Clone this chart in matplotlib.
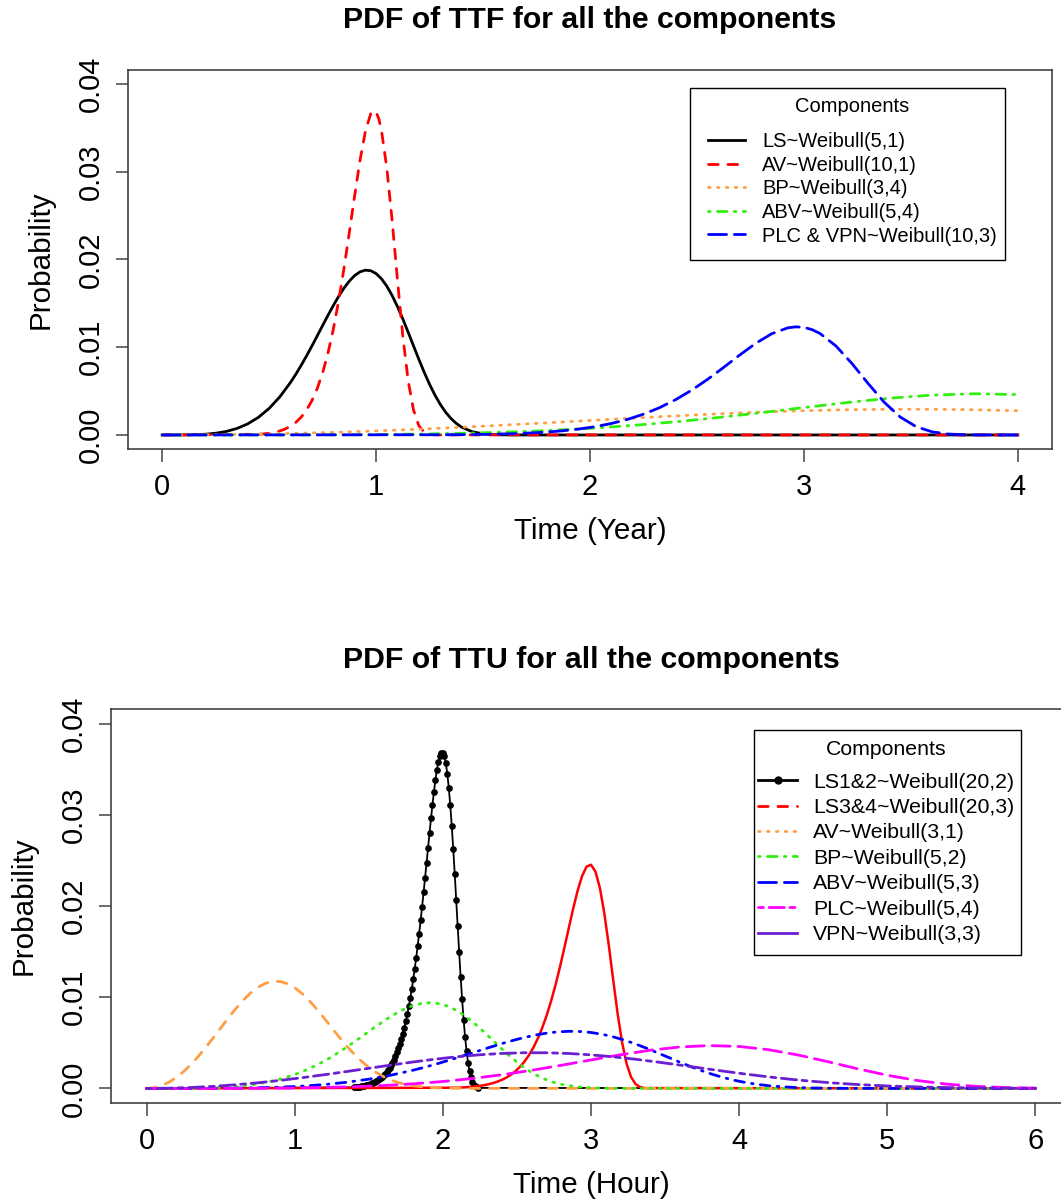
import numpy as np
import matplotlib
matplotlib.use('Agg')
import matplotlib.pyplot as plt
from matplotlib.lines import Line2D
from matplotlib.patches import Rectangle

plt.rcParams['font.family'] = ['Liberation Sans', 'DejaVu Sans']


def grid(start, step, n):
    # evenly spaced sample positions
    return list(np.round(start + step * np.arange(n), 4))


# ---------------- TTF (years) ----------------
ttf_ls_x = grid(0, 0.05, 12) + grid(0.6, 0.025, 33) + grid(1.45, 0.05, 6) + [4.0]
ttf_ls_y = [0, 3.1e-7, 5.0e-6, 2.53e-5, 8.00e-5, 0.000195, 0.000404, 0.000746, 0.001267,
            0.002013, 0.003029, 0.004351,
            0.005995, 0.006935, 0.007948, 0.009023, 0.010148, 0.011307, 0.012479, 0.013638,
            0.014758, 0.015806, 0.016747, 0.017549, 0.018176, 0.018597, 0.018784, 0.018721,
            0.018394, 0.017804, 0.016962, 0.015889, 0.014625, 0.013212, 0.011701, 0.010149,
            0.008609, 0.007137, 0.005771, 0.004547, 0.003487, 0.002595, 0.001875, 0.001312,
            0.000887,
            0.000364, 0.000128, 0.0000376, 0.0000091, 0.0000018, 0.0000003, 0]

ttf_av_x = [0, 0.45, 0.475, 0.5, 0.525, 0.55, 0.575, 0.6, 0.625, 0.65, 0.675, 0.7, 0.725,
            0.75, 0.775, 0.8, 0.825, 0.85, 0.875, 0.9, 0.925, 0.95, 0.975, 0.9875, 1.0,
            1.0125, 1.025, 1.05, 1.075, 1.1, 1.125, 1.15, 1.175, 1.2, 1.225, 1.25, 1.275, 4.0]
ttf_av_y = [0, 0.0000757, 0.000123, 0.000195, 0.000303, 0.000459, 0.000684, 0.001002,
            0.001442, 0.002044, 0.002852, 0.003923, 0.005317, 0.007097, 0.009328, 0.012055,
            0.015298, 0.019022, 0.023111, 0.027337, 0.031342, 0.034631, 0.036635, 0.036972,
            0.036788, 0.036042, 0.034720, 0.030428, 0.024410, 0.017630, 0.011226, 0.006156,
            0.002830, 0.001056, 0.000308, 0.0000673, 0.0000105, 0]

ttf_bp_x = grid(0, 0.2, 21)
ttf_bp_y = [0, 0.0000187, 0.0000749, 0.000168, 0.000298, 0.000461, 0.000657, 0.000880,
            0.001126, 0.001386, 0.001655, 0.001921, 0.002175, 0.002408, 0.002608, 0.002767,
            0.002877, 0.002932, 0.002931, 0.002872, 0.002759]

ttf_abv_x = grid(0, 0.2, 21)
ttf_abv_y = [0, 7.8e-8, 1.25e-6, 6.33e-6, 2.00e-5, 4.88e-5, 0.000101, 0.000187, 0.000317,
             0.000503, 0.000757, 0.001088, 0.001499, 0.001987, 0.002537, 0.003120, 0.003689,
             0.004187, 0.004544, 0.004696, 0.004599]

ttf_plc_x = [0, 1.35, 1.425, 1.5, 1.575, 1.65, 1.725, 1.8, 1.875, 1.95, 2.025, 2.1, 2.175,
             2.25, 2.325, 2.4, 2.475, 2.55, 2.625, 2.7, 2.775, 2.85, 2.925, 2.9625, 3.0,
             3.0375, 3.075, 3.15, 3.225, 3.3, 3.375, 3.45, 3.525, 3.6, 3.675, 3.75, 3.825, 4.0]
ttf_plc_y = [0, 0.0000252, 0.0000410, 0.0000650, 0.000101, 0.000153, 0.000228, 0.000334,
             0.000481, 0.000681, 0.000951, 0.001308, 0.001772, 0.002366, 0.003109, 0.004018,
             0.005099, 0.006341, 0.007704, 0.009112, 0.010447, 0.011544, 0.012212, 0.012324,
             0.012263, 0.012014, 0.011573, 0.010143, 0.008137, 0.005877, 0.003742, 0.002052,
             0.000943, 0.000352, 0.000103, 0.0000224, 0.0000035, 0]

ttf_labels = ['LS~Weibull(5,1)', 'AV~Weibull(10,1)', 'BP~Weibull(3,4)',
              'ABV~Weibull(5,4)', 'PLC & VPN~Weibull(10,3)']

# ---------------- TTU (hours) ----------------
ttu_ls12_x = [0.0] + grid(1.40, 0.01, 85) + [6.0]
ttu_ls12_y = [0,
              0.000114, 0.000130, 0.000149, 0.000170, 0.000194, 0.000222, 0.000253, 0.000287,
              0.000327, 0.000371, 0.000421, 0.000478, 0.000542, 0.000613, 0.000693, 0.000784,
              0.000885, 0.000998, 0.001125, 0.001266, 0.001425, 0.001601, 0.001798, 0.002017,
              0.002261, 0.002531, 0.002832, 0.003164, 0.003532, 0.003939, 0.004387, 0.004880,
              0.005423, 0.006018, 0.006669, 0.007381, 0.008156, 0.008999, 0.009913, 0.010899,
              0.011962, 0.013102, 0.014319, 0.015614, 0.016983, 0.018423, 0.019928, 0.021487,
              0.023092, 0.024724, 0.026367, 0.027999, 0.029594, 0.031120, 0.032546, 0.033833,
              0.034943, 0.035833, 0.036465, 0.036795, 0.036788, 0.036417, 0.035660, 0.034506,
              0.032968, 0.031052, 0.028809, 0.026284, 0.023560, 0.020695, 0.017800, 0.014951,
              0.012247, 0.009760, 0.007544, 0.005647, 0.004082, 0.002839, 0.001892, 0.001206,
              0.000732, 0.000421, 0.000229, 0.000117, 0.000056,
              0]

ttu_ls34_x = [0.0] + grid(2.10, 0.03, 43) + [6.0]
ttu_ls34_y = [0,
              0.0000760, 0.0000993, 0.000129, 0.000169, 0.000218, 0.000281, 0.000361, 0.000462,
              0.000590, 0.000750, 0.000950, 0.001199, 0.001507, 0.001888, 0.002355, 0.002925,
              0.003615, 0.004446, 0.005437, 0.006609, 0.007975, 0.009546, 0.011322, 0.013285,
              0.015395, 0.017578, 0.019729, 0.021697, 0.023295, 0.024310, 0.024525, 0.023773,
              0.021979, 0.019206, 0.015707, 0.011867, 0.008165, 0.005029, 0.002721, 0.001261,
              0.000488, 0.000153, 0.000037,
              0]

ttu_av_x = grid(0, 0.05, 41) + [2.1, 2.2, 6.0]
ttu_av_y = [0, 0.0000750, 0.000300, 0.000673, 0.001190, 0.001846, 0.002628, 0.003521,
            0.004502, 0.005546, 0.006619, 0.007684, 0.008702, 0.009631, 0.010432, 0.011067,
            0.011506, 0.011729, 0.011722, 0.011488, 0.011036, 0.010393, 0.009591, 0.008670,
            0.007674, 0.006649, 0.005634, 0.004670, 0.003782, 0.002992, 0.002310, 0.001740,
            0.001278, 0.000915, 0.000638, 0.000432, 0.000285, 0.000183, 0.000114, 0.0000687,
            0.0000403, 0.0000126, 0.0000035, 0]

ttu_bp_x = grid(0, 0.1, 12) + grid(1.2, 0.05, 33) + grid(2.9, 0.1, 5) + [6.0]
ttu_bp_y = [0, 1.6e-7, 2.5e-6, 1.27e-5, 4.00e-5, 9.76e-5, 0.000202, 0.000373, 0.000633,
            0.001006, 0.001514, 0.002175,
            0.002998, 0.003468, 0.003974, 0.004511, 0.005074, 0.005653, 0.006239, 0.006819,
            0.007379, 0.007903, 0.008374, 0.008774, 0.009088, 0.009298, 0.009392, 0.009360,
            0.009197, 0.008902, 0.008481, 0.007945, 0.007312, 0.006606, 0.005851, 0.005074,
            0.004305, 0.003568, 0.002885, 0.002273, 0.001743, 0.001298, 0.000938, 0.000656,
            0.000443,
            0.000182, 0.0000638, 0.0000188, 0.0000046, 0.0000009, 0]

ttu_abv_x = grid(0, 0.15, 12) + grid(1.8, 0.075, 33) + grid(4.35, 0.15, 5) + [6.0]
ttu_abv_y = [0, 1.04e-7, 1.67e-6, 8.44e-6, 2.67e-5, 6.50e-5, 0.000135, 0.000249, 0.000422,
             0.000671, 0.001010, 0.001450,
             0.001998, 0.002312, 0.002649, 0.003008, 0.003383, 0.003769, 0.004160, 0.004546,
             0.004919, 0.005269, 0.005582, 0.005850, 0.006059, 0.006199, 0.006261, 0.006240,
             0.006131, 0.005935, 0.005654, 0.005296, 0.004875, 0.004404, 0.003900, 0.003383,
             0.002870, 0.002379, 0.001924, 0.001516, 0.001162, 0.000865, 0.000625, 0.000437,
             0.000296,
             0.000121, 0.0000425, 0.0000125, 0.0000030, 0.0000006, 0]

ttu_plc_x = grid(0, 0.2, 31)
ttu_plc_y = [0, 7.8e-8, 1.25e-6, 6.33e-6, 2.00e-5, 4.88e-5, 0.000101, 0.000187, 0.000317,
             0.000503, 0.000757, 0.001088, 0.001499, 0.001987, 0.002537, 0.003120, 0.003689,
             0.004187, 0.004544, 0.004696, 0.004599, 0.004240, 0.003656, 0.002925, 0.002152,
             0.001443, 0.000872, 0.000469, 0.000222, 0.0000909, 0.0000319]

ttu_vpn_x = grid(0, 0.15, 41)
ttu_vpn_y = [0, 0.0000250, 0.0000999, 0.000224, 0.000397, 0.000615, 0.000876, 0.001174,
             0.001501, 0.001849, 0.002206, 0.002561, 0.002901, 0.003210, 0.003477, 0.003689,
             0.003835, 0.003910, 0.003907, 0.003829, 0.003679, 0.003464, 0.003197, 0.002890,
             0.002558, 0.002216, 0.001878, 0.001557, 0.001261, 0.000997, 0.000770, 0.000580,
             0.000426, 0.000305, 0.000213, 0.000144, 0.0000950, 0.0000609, 0.0000379,
             0.0000229, 0.0000134]

ttu_labels = ['LS1&2~Weibull(20,2)', 'LS3&4~Weibull(20,3)', 'AV~Weibull(3,1)',
              'BP~Weibull(5,2)', 'ABV~Weibull(5,3)', 'PLC~Weibull(5,4)', 'VPN~Weibull(3,3)']

# R style line types
LTY = {1: '-', 2: (0, (3.5, 3.5)), 3: (0, (0.6, 2.6)), 4: (0, (0.6, 2.6, 3.5, 2.6)),
       5: (0, (6.5, 2.8)), 6: (0, (1.8, 2.0, 5.5, 2.0))}
ORANGE = '#FF9F45'
GREEN = '#33EE11'
PURPLE = '#6A1FD0'
LW = 2.0
FS = 21

fig = plt.figure(figsize=(10.61, 12.03), dpi=100)
W, H = 1061.0, 1203.0


def style_axes(ax, xlim, xticks, xlabel, title, title_y):
    ax.set_xlim(*xlim)
    ax.set_ylim(-0.0016, 0.0416)
    ax.set_xticks(xticks)
    ax.set_xticklabels([str(t) for t in xticks])
    ax.set_yticks([0, 0.01, 0.02, 0.03, 0.04])
    ax.set_yticklabels(['0.00', '0.01', '0.02', '0.03', '0.04'], rotation=90, va='center')
    ax.tick_params(axis='both', direction='out', length=9, width=1.1, color='#444444',
                   labelsize=FS)
    ax.tick_params(axis='x', pad=8)
    ax.tick_params(axis='y', pad=8)
    for s in ax.spines.values():
        s.set_color('#333333')
        s.set_linewidth(1.1)
    ax.set_xlabel(xlabel, fontsize=21.3, labelpad=12)
    ax.set_ylabel('Probability', fontsize=21.3, labelpad=16)
    fig.text((ax.get_position().x0 + ax.get_position().x1) / 2, title_y, title,
             ha='center', va='center', fontsize=21.8, fontweight='bold')


def draw(ax, x, y, color, lty, lw=LW, **kw):
    return ax.plot(x, y, color=color, linestyle=LTY[lty], linewidth=lw,
                   dash_capstyle='round', **kw)[0]


def make_legend(ax, handles, labels, box, left, title_top, fs, spacing, title_gap,
                hlen, hpad):
    # legend content without frame, box drawn separately (R style)
    leg = ax.legend(handles, labels, title='Components', loc='upper left',
                    bbox_to_anchor=(left / W, 1 - title_top / H),
                    bbox_transform=fig.transFigure, fontsize=fs, title_fontsize=fs,
                    frameon=False, borderaxespad=0, borderpad=0,
                    handlelength=hlen, handletextpad=hpad, labelspacing=spacing)
    leg._legend_box.sep = title_gap
    x0, y0, x1, y1 = box
    fig.add_artist(Rectangle((x0 / W, 1 - y1 / H), (x1 - x0) / W, (y1 - y0) / H,
                             transform=fig.transFigure, fill=False,
                             edgecolor='black', linewidth=1.0))
    return leg


# top panel
ax1 = fig.add_axes([128 / W, 1 - 449 / H, 924 / W, 379 / H])
h1 = [draw(ax1, ttf_ls_x, ttf_ls_y, 'black', 1),
      draw(ax1, ttf_av_x, ttf_av_y, 'red', 2),
      draw(ax1, ttf_bp_x, ttf_bp_y, ORANGE, 3),
      draw(ax1, ttf_abv_x, ttf_abv_y, GREEN, 4),
      draw(ax1, ttf_plc_x, ttf_plc_y, 'blue', 5)]
style_axes(ax1, (-0.16, 4.16), [0, 1, 2, 3, 4], 'Time (Year)',
           'PDF of TTF for all the components', 1 - 20 / H)
make_legend(ax1, h1, ttf_labels, (690, 88, 1005, 260), 708, 97.5, 14.5,
            0.226, 11.4, 1.83, 0.85)

# bottom panel
ax2 = fig.add_axes([111 / W, 1 - 1103 / H, 960 / W, 394 / H])
draw(ax2, ttu_ls12_x, ttu_ls12_y, 'black', 1, lw=1.3, marker='o', markersize=3.8,
     markevery=slice(1, -1))
draw(ax2, ttu_ls34_x, ttu_ls34_y, 'red', 1, lw=1.8)
draw(ax2, ttu_av_x, ttu_av_y, ORANGE, 2)
draw(ax2, ttu_bp_x, ttu_bp_y, GREEN, 3)
draw(ax2, ttu_abv_x, ttu_abv_y, 'blue', 4)
draw(ax2, ttu_plc_x, ttu_plc_y, 'magenta', 5)
draw(ax2, ttu_vpn_x, ttu_vpn_y, PURPLE, 6)
style_axes(ax2, (-0.24, 6.24), [0, 1, 2, 3, 4, 5, 6], 'Time (Hour)',
           'PDF of TTU for all the components', 1 - 660 / H)

# legend line types differ from the plotted ones (as in the original)
leg_cols = ['black', 'red', ORANGE, GREEN, 'blue', 'magenta', PURPLE]
leg_lty = [1, 2, 3, 4, 5, 6, 1]
h2 = [Line2D([], [], color=c, linestyle=LTY[l], linewidth=LW, dash_capstyle='round')
      for c, l in zip(leg_cols, leg_lty)]
h2[0].set_marker('o')
h2[0].set_markersize(5)
make_legend(ax2, h2, ttu_labels, (754, 730, 1021, 955), 758, 740, 15.3,
            0.30, 9.9, 1.84, 0.75)

fig.savefig('out.png', dpi=100)
